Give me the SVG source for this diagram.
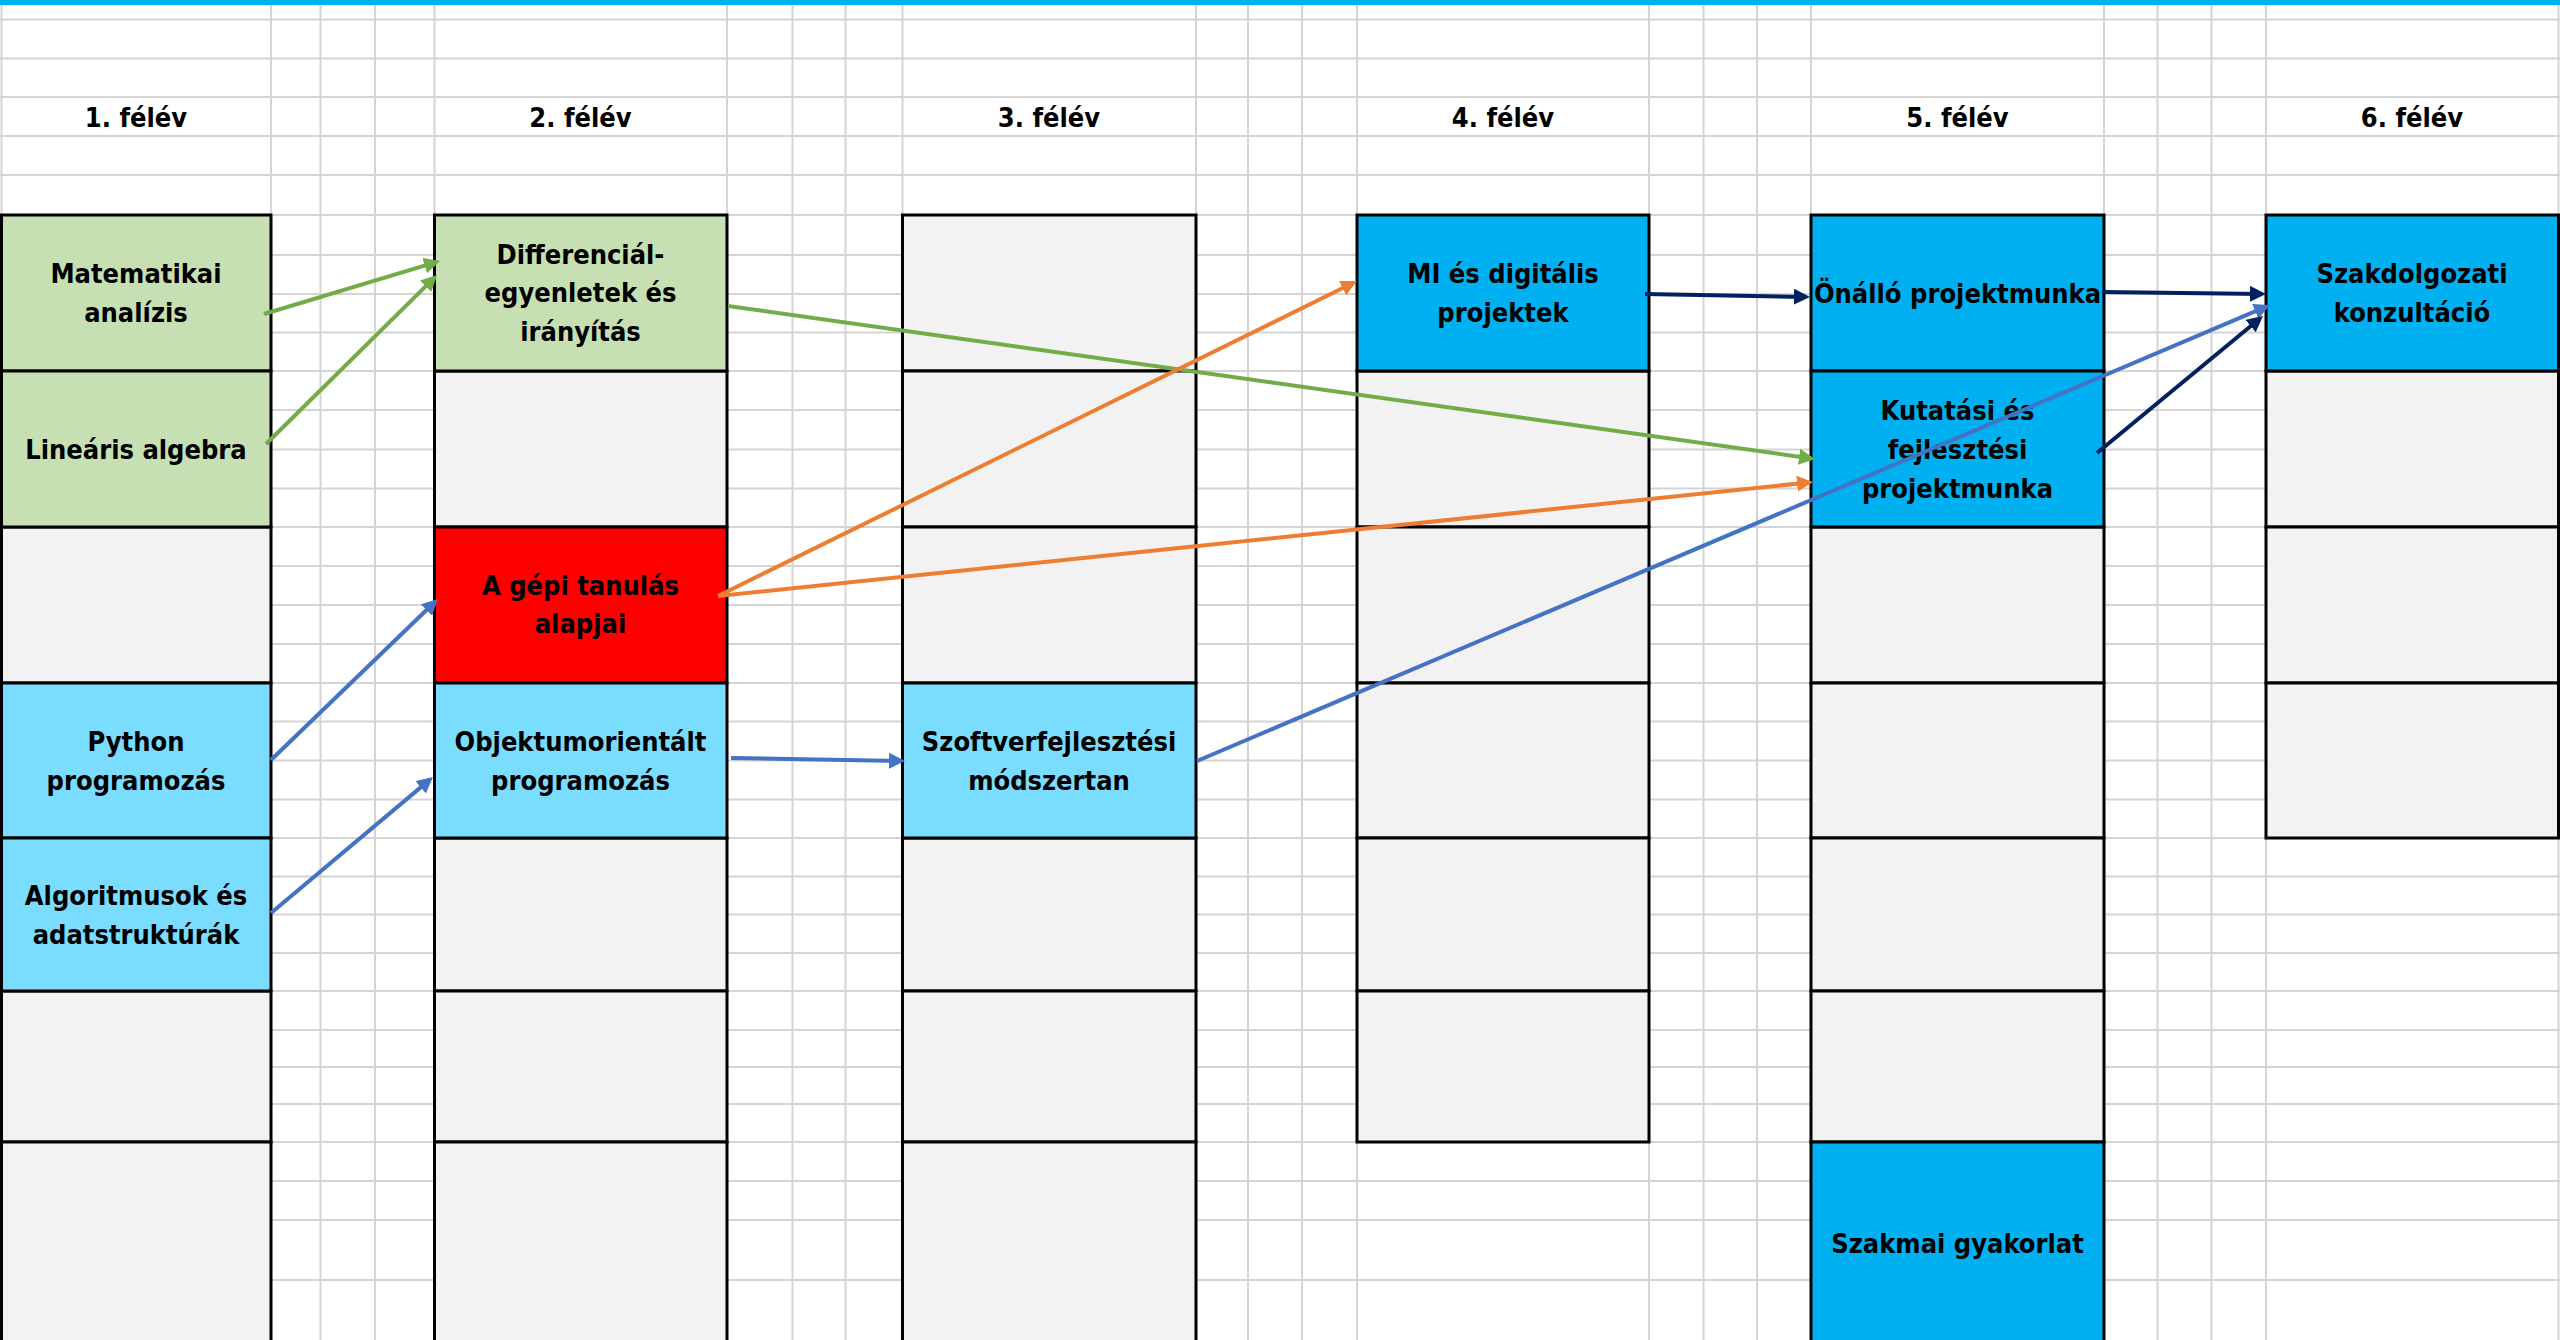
<svg xmlns="http://www.w3.org/2000/svg" width="2560" height="1340" viewBox="0 0 2560 1340">
<defs>
<style>
.grid{stroke:#D4D4D4;stroke-width:2;fill:none}
.cell{stroke:#000;stroke-width:3}
.empty{fill:#F2F2F2}
.green{fill:#C6E0B4}
.cyan{fill:#7ADCFF}
.blue{fill:#00B0F0}
.red{fill:#FF0000}
text{font-family:"DejaVu Sans Condensed","DejaVu Sans",sans-serif;font-stretch:condensed;font-weight:bold;font-size:27px;fill:#000;text-anchor:middle}
.con{fill:none;stroke-width:4}
.cg{stroke:#70AD47}
.co{stroke:#ED7D31}
.cb{stroke:#4472C4}
.cn{stroke:#002060}
</style>
<marker id="ag" markerUnits="userSpaceOnUse" markerWidth="16" markerHeight="16" refX="12" refY="8" orient="auto"><path d="M0,0L16,8L0,16z" fill="#70AD47"/></marker>
<marker id="ao" markerUnits="userSpaceOnUse" markerWidth="16" markerHeight="16" refX="12" refY="8" orient="auto"><path d="M0,0L16,8L0,16z" fill="#ED7D31"/></marker>
<marker id="ab" markerUnits="userSpaceOnUse" markerWidth="16" markerHeight="16" refX="12" refY="8" orient="auto"><path d="M0,0L16,8L0,16z" fill="#4472C4"/></marker>
<marker id="an" markerUnits="userSpaceOnUse" markerWidth="16" markerHeight="16" refX="12" refY="8" orient="auto"><path d="M0,0L16,8L0,16z" fill="#002060"/></marker>
</defs>
<rect x="0" y="0" width="2560" height="1340" fill="#FFFFFF"/>
<g id="grid">
<path class="grid" d="M0,19.5H2560M0,58.5H2560M0,97H2560M0,136H2560M0,175H2560M0,215H2560M0,255H2560M0,294H2560M0,332.5H2560M0,371H2560M0,410H2560M0,449.5H2560M0,488.5H2560M0,527H2560M0,566H2560M0,605H2560M0,644H2560M0,683H2560M0,721.5H2560M0,760.5H2560M0,799.5H2560M0,838H2560M0,876.5H2560M0,914.5H2560M0,953H2560M0,991H2560M0,1030H2560M0,1067H2560M0,1104H2560M0,1142H2560M0,1181H2560M0,1220H2560M0,1280H2560"/>
<path class="grid" d="M1.5,5V1340M271,5V1340M320.5,5V1340M375,5V1340M434.5,5V1340M727,5V1340M792.5,5V1340M845.5,5V1340M902.5,5V1340M1196,5V1340M1248,5V1340M1302,5V1340M1357,5V1340M1649,5V1340M1703.5,5V1340M1757,5V1340M1811,5V1340M2104,5V1340M2157.5,5V1340M2211.5,5V1340M2266,5V1340M2558.5,5V1340"/>
</g>
<rect id="topbar" x="0" y="0" width="2560" height="5" fill="#00B0F0"/>
<g id="headers">
<text x="136" y="127">1. félév</text>
<text x="580.5" y="127">2. félév</text>
<text x="1049" y="127">3. félév</text>
<text x="1503" y="127">4. félév</text>
<text x="1957.5" y="127">5. félév</text>
<text x="2412" y="127">6. félév</text>
</g>
<g id="empty-cells">
<rect class="cell empty" x="1.5" y="527" width="269.5" height="156"/>
<rect class="cell empty" x="1.5" y="991" width="269.5" height="151"/>
<rect class="cell empty" x="1.5" y="1142" width="269.5" height="203"/>
<rect class="cell empty" x="434.5" y="371" width="292.5" height="156"/>
<rect class="cell empty" x="434.5" y="838" width="292.5" height="153"/>
<rect class="cell empty" x="434.5" y="991" width="292.5" height="151"/>
<rect class="cell empty" x="434.5" y="1142" width="292.5" height="203"/>
<rect class="cell empty" x="902.5" y="215" width="293.5" height="156"/>
<rect class="cell empty" x="902.5" y="371" width="293.5" height="156"/>
<rect class="cell empty" x="902.5" y="527" width="293.5" height="156"/>
<rect class="cell empty" x="902.5" y="838" width="293.5" height="153"/>
<rect class="cell empty" x="902.5" y="991" width="293.5" height="151"/>
<rect class="cell empty" x="902.5" y="1142" width="293.5" height="203"/>
<rect class="cell empty" x="1357" y="371" width="292" height="156"/>
<rect class="cell empty" x="1357" y="527" width="292" height="156"/>
<rect class="cell empty" x="1357" y="683" width="292" height="155"/>
<rect class="cell empty" x="1357" y="838" width="292" height="153"/>
<rect class="cell empty" x="1357" y="991" width="292" height="151"/>
<rect class="cell empty" x="1811" y="527" width="293" height="156"/>
<rect class="cell empty" x="1811" y="683" width="293" height="155"/>
<rect class="cell empty" x="1811" y="838" width="293" height="153"/>
<rect class="cell empty" x="1811" y="991" width="293" height="151"/>
<rect class="cell empty" x="2266" y="371" width="292.5" height="156"/>
<rect class="cell empty" x="2266" y="527" width="292.5" height="156"/>
<rect class="cell empty" x="2266" y="683" width="292.5" height="155"/>
</g>
<g id="matematikai-analizis">
<rect class="cell green" x="1.5" y="215" width="269.5" height="156"/>
<text><tspan x="136" y="283">Matematikai</tspan><tspan x="136" y="321.5">analízis</tspan></text>
</g>
<g id="linearis-algebra">
<rect class="cell green" x="1.5" y="371" width="269.5" height="156"/>
<text x="136" y="459">Lineáris algebra</text>
</g>
<g id="python-programozas">
<rect class="cell cyan" x="1.5" y="683" width="269.5" height="155"/>
<text><tspan x="136" y="751">Python</tspan><tspan x="136" y="789.5">programozás</tspan></text>
</g>
<g id="algoritmusok">
<rect class="cell cyan" x="1.5" y="838" width="269.5" height="153"/>
<text><tspan x="136" y="905">Algoritmusok és</tspan><tspan x="136" y="943.5">adatstruktúrák</tspan></text>
</g>
<g id="differencialegyenletek">
<rect class="cell green" x="434.5" y="215" width="292.5" height="156"/>
<text><tspan x="580.5" y="263.5">Differenciál-</tspan><tspan x="580.5" y="302">egyenletek és</tspan><tspan x="580.5" y="340.5">irányítás</tspan></text>
</g>
<g id="gepi-tanulas">
<rect class="cell red" x="434.5" y="527" width="292.5" height="156"/>
<text><tspan x="580.5" y="594.5">A gépi tanulás</tspan><tspan x="580.5" y="633">alapjai</tspan></text>
</g>
<g id="objektumorientalt">
<rect class="cell cyan" x="434.5" y="683" width="292.5" height="155"/>
<text><tspan x="580.5" y="751">Objektumorientált</tspan><tspan x="580.5" y="789.5">programozás</tspan></text>
</g>
<g id="szoftverfejlesztesi">
<rect class="cell cyan" x="902.5" y="683" width="293.5" height="155"/>
<text><tspan x="1049" y="751">Szoftverfejlesztési</tspan><tspan x="1049" y="789.5">módszertan</tspan></text>
</g>
<g id="mi-digitalis">
<rect class="cell blue" x="1357" y="215" width="292" height="156"/>
<text><tspan x="1503" y="283">MI és digitális</tspan><tspan x="1503" y="321.5">projektek</tspan></text>
</g>
<g id="onallo-projektmunka">
<rect class="cell blue" x="1811" y="215" width="293" height="156"/>
<text x="1957.5" y="303">Önálló projektmunka</text>
</g>
<g id="kutatasi-fejlesztesi">
<rect class="cell blue" x="1811" y="371" width="293" height="156"/>
<text><tspan x="1957.5" y="420">Kutatási és</tspan><tspan x="1957.5" y="459">fejlesztési</tspan><tspan x="1957.5" y="497.5">projektmunka</tspan></text>
</g>
<g id="szakmai-gyakorlat">
<rect class="cell blue" x="1811" y="1142" width="293" height="203"/>
<text x="1957.5" y="1253">Szakmai gyakorlat</text>
</g>
<g id="szakdolgozati-konzultacio">
<rect class="cell blue" x="2266" y="215" width="292.5" height="156"/>
<text><tspan x="2412" y="283">Szakdolgozati</tspan><tspan x="2412" y="321.5">konzultáció</tspan></text>
</g>
<g id="connectors">
<line class="con cg" x1="264" y1="314" x2="436.2" y2="262.2" marker-end="url(#ag)"/>
<line class="con cg" x1="266" y1="444" x2="434.2" y2="277.8" marker-end="url(#ag)"/>
<line class="con cg" x1="728" y1="306" x2="1811" y2="458.4" marker-end="url(#ag)"/>
<line class="con co" x1="718" y1="596" x2="1353.4" y2="282.8" marker-end="url(#ao)"/>
<line class="con co" x1="718" y1="596" x2="1809" y2="482.4" marker-end="url(#ao)"/>
<line class="con cb" x1="271" y1="760" x2="435.1" y2="601.8" marker-end="url(#ab)"/>
<line class="con cb" x1="271" y1="913" x2="429.9" y2="779.6" marker-end="url(#ab)"/>
<line class="con cb" x1="731" y1="758" x2="901" y2="760.9" marker-end="url(#ab)"/>
<line class="con cb" x1="1197" y1="761" x2="2266.3" y2="306.6" marker-end="url(#ab)"/>
<line class="con cn" x1="1645" y1="294" x2="1806" y2="296.9" marker-end="url(#an)"/>
<line class="con cn" x1="2102" y1="292" x2="2262" y2="294" marker-end="url(#an)"/>
<line class="con cn" x1="2097" y1="453" x2="2259.9" y2="318.5" marker-end="url(#an)"/>
</g>
</svg>
